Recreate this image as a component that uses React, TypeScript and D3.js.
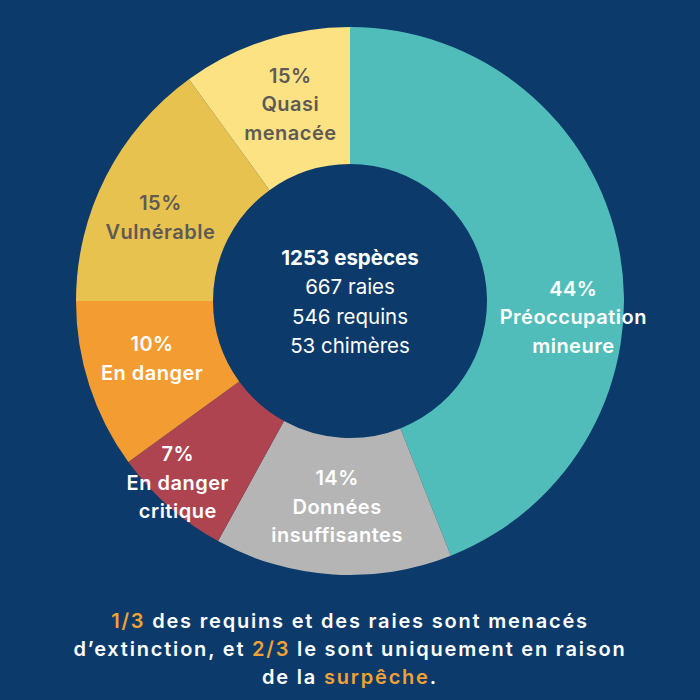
import React from "react";
import * as d3 from "d3";

// ---- data ----
const categories = [
  "Préoccupation mineure",
  "Données insuffisantes",
  "En danger critique",
  "En danger",
  "Vulnérable",
  "Quasi menacée",
];
const sliceValues = [44, 14, 7, 10, 15, 10];
const percentLabels = ["44%", "14%", "7%", "10%", "15%", "15%"];
const nameLines = [
  ["Préoccupation", "mineure"],
  ["Données", "insuffisantes"],
  ["En danger", "critique"],
  ["En danger"],
  ["Vulnérable"],
  ["Quasi", "menacée"],
];
const centerLines = ["1253 espèces", "667 raies", "546 requins", "53 chimères"];

// ---- styles ----
const BG = "#0b3a6b";
const sliceColors = ["#51bdba", "#b5b5b5", "#ad4450", "#f39c31", "#e8c24f", "#fde283"];
const labelColors = ["#ffffff", "#ffffff", "#ffffff", "#ffffff", "#5e5a55", "#5e5a55"];
const labelNudge: [number, number][] = [
  [21, 55],
  [0, 0],
  [-36, 27],
  [-2, -6],
  [-6, 10],
  [4, -1],
];
const ACCENT = "#f2a233";
const FONT = "Inter, 'Noto Sans', sans-serif";

export default function App() {
  const W = 700;
  const H = 700;
  const cx = 350;
  const cy = 301;
  const outerR = 274;
  const innerR = 137;
  const labelR = 206;
  const lineH = 28.5;

  const pie = d3
    .pie<number>()
    .value((d) => d)
    .sort(null)
    .startAngle(0)
    .endAngle(2 * Math.PI);
  const arcs = pie(sliceValues);
  const arc = d3.arc<d3.PieArcDatum<number>>().innerRadius(innerR).outerRadius(outerR);
  const labelArc = d3.arc<d3.PieArcDatum<number>>().innerRadius(labelR).outerRadius(labelR);

  return (
    <svg
      width={W}
      height={H}
      viewBox={`0 0 ${W} ${H}`}
      style={{ position: "absolute", left: 0, top: 0, display: "block" }}
    >
      <rect width={W} height={H} fill={BG} />
      <g transform={`translate(${cx},${cy})`}>
        {arcs.map((a, i) => (
          <path key={categories[i]} d={arc(a) || ""} fill={sliceColors[i]} />
        ))}
        {arcs.map((a, i) => {
          const [x0, y0] = labelArc.centroid(a);
          const x = x0 + labelNudge[i][0];
          const y = y0 + labelNudge[i][1];
          const lines = [percentLabels[i], ...nameLines[i]];
          const top = y - ((lines.length - 1) * lineH) / 2;
          return (
            <text
              key={"l" + i}
              textAnchor="middle"
              fontFamily={FONT}
              fontWeight={600}
              fontSize={20}
              letterSpacing={0.5}
              fill={labelColors[i]}
            >
              {lines.map((t, j) => (
                <tspan key={j} x={x} y={top + j * lineH} dominantBaseline="central">
                  {t}
                </tspan>
              ))}
            </text>
          );
        })}
        <text textAnchor="middle" fontFamily={FONT} fontSize={20.5} fill="#ffffff">
          {centerLines.map((t, j) => (
            <tspan
              key={j}
              x={0}
              y={-44 + j * 29.5}
              dominantBaseline="central"
              fontWeight={j === 0 ? 700 : 400}
            >
              {t}
            </tspan>
          ))}
        </text>
      </g>
      <g fontFamily={FONT} fontWeight={600} fontSize={20} fill="#ffffff" textAnchor="middle" letterSpacing={1.8}>
        <text x={W / 2} y={621} dominantBaseline="central">
          <tspan fill={ACCENT}>1/3</tspan> des requins et des raies sont menacés
        </text>
        <text x={W / 2} y={649} dominantBaseline="central">
          d’extinction, et <tspan fill={ACCENT}>2/3</tspan> le sont uniquement en raison
        </text>
        <text x={W / 2} y={677} dominantBaseline="central">
          de la <tspan fill={ACCENT}>surpêche</tspan>.
        </text>
      </g>
    </svg>
  );
}
